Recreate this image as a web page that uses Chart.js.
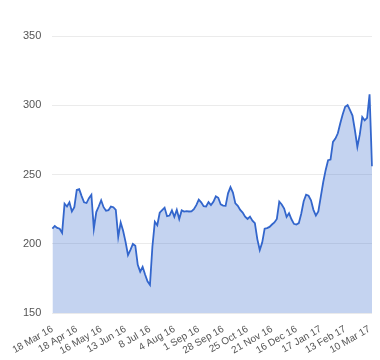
<!DOCTYPE html>
<html>
<head>
<meta charset="utf-8">
<style>
  html, body { margin: 0; padding: 0; background: #ffffff; }
  #wrap { width: 380px; height: 360px; }
</style>
<script src="https://cdn.jsdelivr.net/npm/chart.js@4.4.0/dist/chart.umd.min.js"></script>
</head>
<body>
<div id="wrap"><canvas id="c" width="380" height="360"></canvas></div>
<script>
// Tick labels shown on the x axis (one every 10 samples)
const tickLabels = ['18 Mar 16', '18 Apr 16', '16 May 16', '13 Jun 16', '8 Jul 16', '4 Aug 16',
  '1 Sep 16', '28 Sep 16', '25 Oct 16', '21 Nov 16', '16 Dec 16', '17 Jan 17', '13 Feb 17', '10 Mar 17'];

// Series values
const values = [
  211, 213, 211.6, 211, 208, 229, 227, 230, 223.4, 226.5,
  239, 239.5, 234.5, 230, 229.5, 233, 235.5, 211, 223, 227,
  231.5, 226.5, 224, 224.3, 227, 226.5, 224.6, 205, 215.5, 209.5,
  201.5, 192, 195.7, 200, 198.7, 185, 180, 183.5, 178, 173,
  170.5, 198, 216, 213.5, 222.5, 224.4, 226.2, 220, 220.5, 224.2,
  219.5, 224.6, 218, 224.2, 223.3, 223.6, 223.4, 223.5, 225.1, 228,
  231.9, 230, 227.2, 227, 230.2, 228, 230.4, 234.3, 233.3, 228.5,
  227.7, 227.5, 236.5, 241, 237, 229.3, 227.5, 224.5, 222.6, 219.7,
  218, 219.7, 216.8, 215, 203.5, 195.6, 201, 211, 211.4, 212.3,
  214, 215.5, 218, 230.5, 228.5, 225.5, 219.5, 222.2, 217.8, 214.5,
  214, 215, 221.8, 230.8, 235.5, 234.8, 231.5, 224.6, 220.5, 223.4,
  234, 244.5, 253.2, 260.4, 260.9, 273.6, 276, 279.8, 287, 293.6,
  299, 300.2, 296.6, 292.6, 282, 270, 279, 291.6, 289.2, 291,
  308, 256
];

const yTicks = [150, 200, 250, 300, 350];
const samplesPerTick = 10;

const labels = values.map((v, i) => (i % samplesPerTick === 0 && tickLabels[i / samplesPerTick]) ? tickLabels[i / samplesPerTick] : '');

new Chart(document.getElementById('c'), {
  type: 'line',
  data: {
    labels: labels,
    datasets: [{
      data: values,
      borderColor: '#3366cc',
      backgroundColor: 'rgba(51,102,204,0.29)',
      borderWidth: 1.8,
      pointRadius: 0,
      tension: 0,
      fill: 'start'
    }]
  },
  options: {
    responsive: false,
    animation: false,
    layout: { padding: { left: 12, right: -2, top: 36, bottom: 1 } },
    plugins: { legend: { display: false }, tooltip: { enabled: false } },
    scales: {
      x: {
        type: 'category',
        offset: false,
        grid: { display: false },
        border: { display: false },
        ticks: {
          autoSkip: false,
          minRotation: 30,
          maxRotation: 30,
          padding: 2,
          color: '#555555',
          font: { family: 'Liberation Sans, Arial, sans-serif', size: 10 }
        }
      },
      y: {
        min: 150,
        max: 350,
        afterBuildTicks: (axis) => { axis.ticks = yTicks.map(v => ({ value: v })); },
        grid: { color: '#ebebeb', drawTicks: false },
        border: { display: false },
        ticks: {
          padding: 11,
          color: '#555555',
          font: { family: 'Liberation Sans, Arial, sans-serif', size: 11 }
        }
      }
    }
  }
});
</script>
</body>
</html>
